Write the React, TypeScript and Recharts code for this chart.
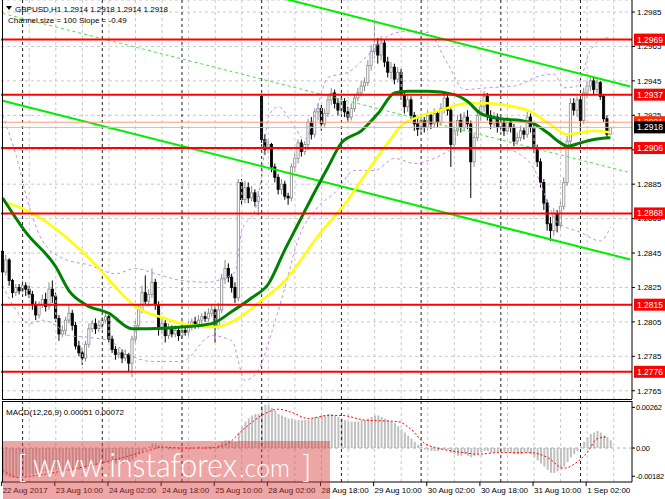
import React from 'react';
import {
  Bar,
  CartesianGrid,
  ComposedChart,
  Line,
  ReferenceLine,
  XAxis,
  YAxis,
} from 'recharts';

const FONT = '"Liberation Sans", Arial, sans-serif';
const W = 665;
const SLOTS = 190; // 184 bars + chart shift on the right

// GBPUSD H1, 22 Aug 2017 18:00 .. 1 Sep 2017 09:00 (weekend has no bars)
const firstOpen = 1.2846;
const gapOpens: Record<number, number> = { 78: 1.2936 }; // Monday open

const closes = [
  1.2834, 1.2841, 1.2829, 1.2822, 1.2825, 1.2823, 1.2826, 1.2824, 1.2821, 1.2815,
  1.2809, 1.2815, 1.2818, 1.2814, 1.2824, 1.282, 1.2807, 1.2798, 1.28, 1.2806,
  1.281, 1.2803, 1.2791, 1.2787, 1.2784, 1.2792, 1.2801, 1.2804, 1.2801, 1.2803,
  1.2806, 1.2808, 1.2795, 1.2789, 1.2786, 1.2787, 1.2784, 1.2786, 1.2781, 1.2795,
  1.2803, 1.2812, 1.2822, 1.2817, 1.2821, 1.2828, 1.2815, 1.2801, 1.2804, 1.2797,
  1.2801, 1.2798, 1.28, 1.2797, 1.28, 1.2799, 1.2802, 1.2805, 1.2803, 1.2806,
  1.2808, 1.2807, 1.281, 1.2812, 1.2803, 1.2812, 1.283, 1.2836, 1.2831, 1.2825,
  1.2819, 1.2886, 1.2876, 1.2883, 1.2877, 1.288, 1.2875, 1.2878, 1.2911, 1.2905,
  1.2908, 1.2895, 1.2889, 1.2882, 1.2885, 1.2878, 1.2877, 1.2895, 1.29, 1.2909,
  1.2904, 1.2908, 1.2921, 1.2914, 1.2927, 1.2929, 1.292, 1.2926, 1.2934, 1.2938,
  1.2932, 1.2928, 1.2933, 1.2927, 1.2924, 1.2929, 1.2935, 1.2938, 1.2942, 1.2944,
  1.2954, 1.2962, 1.2966, 1.296, 1.2967, 1.2956, 1.295, 1.2953, 1.2946, 1.295,
  1.2937, 1.293, 1.2934, 1.2925, 1.292, 1.2917, 1.2922, 1.2918, 1.2925, 1.292,
  1.2926, 1.2921, 1.2929, 1.2935, 1.2928, 1.2908, 1.2916, 1.2922, 1.2918, 1.2924,
  1.292, 1.2898, 1.2912, 1.2925, 1.293, 1.2936, 1.2925, 1.292, 1.2924, 1.2918,
  1.2921, 1.2916, 1.2921, 1.2918, 1.291, 1.2912, 1.2916, 1.2914, 1.2924, 1.2918,
  1.2906, 1.2898, 1.2886, 1.2874, 1.2862, 1.2858, 1.2868, 1.2861, 1.2872, 1.2886,
  1.291, 1.2932, 1.2928, 1.2934, 1.2922, 1.2938, 1.2942, 1.2945, 1.294, 1.2944,
  1.2936, 1.2923, 1.2914, 1.2918,
];

const highs = [
  1.2849, 1.2844, 1.2842, 1.283, 1.2827, 1.2827, 1.2829, 1.2828, 1.2826, 1.2823,
  1.2817, 1.2817, 1.2821, 1.2822, 1.2828, 1.2829, 1.2822, 1.2809, 1.2803, 1.2808,
  1.2815, 1.2812, 1.2805, 1.2794, 1.279, 1.2794, 1.2804, 1.2806, 1.2807, 1.2806,
  1.2808, 1.281, 1.2809, 1.2797, 1.2791, 1.279, 1.2789, 1.2789, 1.2787, 1.2797,
  1.2806, 1.2815, 1.2826, 1.2832, 1.2824, 1.2836, 1.283, 1.2817, 1.2807, 1.2806,
  1.2804, 1.2803, 1.2803, 1.2802, 1.2803, 1.2802, 1.2805, 1.2807, 1.2808, 1.2809,
  1.281, 1.2811, 1.2813, 1.2815, 1.2814, 1.2816, 1.2833, 1.2841, 1.2839, 1.2833,
  1.2828, 1.2888, 1.2888, 1.2887, 1.2886, 1.2884, 1.2882, 1.2881, 1.2937, 1.2914,
  1.2911, 1.2909, 1.2897, 1.2891, 1.2888, 1.2887, 1.288, 1.2897, 1.2903, 1.2911,
  1.2911, 1.291, 1.2923, 1.2924, 1.2929, 1.2932, 1.2931, 1.2929, 1.2937, 1.2941,
  1.294, 1.2935, 1.2936, 1.2935, 1.293, 1.2932, 1.2937, 1.2941, 1.2945, 1.2947,
  1.2957, 1.2966, 1.2979, 1.297, 1.2971, 1.2969, 1.2959, 1.2956, 1.2955, 1.2953,
  1.2952, 1.2939, 1.2937, 1.2936, 1.2927, 1.2923, 1.2925, 1.2924, 1.2928, 1.2927,
  1.2929, 1.2928, 1.2932, 1.2938, 1.2937, 1.293, 1.2919, 1.2925, 1.2926, 1.2927,
  1.2928, 1.2922, 1.2914, 1.2928, 1.2934, 1.2939, 1.2938, 1.2928, 1.2927, 1.2926,
  1.2924, 1.2923, 1.2924, 1.2923, 1.292, 1.2915, 1.2919, 1.2918, 1.2927, 1.2926,
  1.292, 1.2908, 1.29, 1.2888, 1.2876, 1.2866, 1.2871, 1.287, 1.2875, 1.2889,
  1.2913, 1.2935, 1.2935, 1.2936, 1.2935, 1.2941, 1.2945, 1.2947, 1.2947, 1.2946,
  1.2945, 1.2937, 1.2925, 1.2918,
];

const lows = [
  1.2831, 1.2832, 1.2826, 1.2819, 1.282, 1.2821, 1.2822, 1.282, 1.2819, 1.2812,
  1.2806, 1.2807, 1.2813, 1.2811, 1.2812, 1.2816, 1.2805, 1.2794, 1.2796, 1.2797,
  1.2804, 1.28, 1.2789, 1.2785, 1.278, 1.2782, 1.279, 1.2799, 1.2798, 1.2799,
  1.2801, 1.2804, 1.2793, 1.2787, 1.2783, 1.2784, 1.2781, 1.2782, 1.2776, 1.2773,
  1.2792, 1.28, 1.281, 1.2815, 1.2814, 1.2819, 1.2812, 1.2797, 1.2798, 1.2793,
  1.2795, 1.2796, 1.2796, 1.2794, 1.2795, 1.2797, 1.2797, 1.28, 1.2801, 1.2801,
  1.2804, 1.2805, 1.2805, 1.2808, 1.2793, 1.2801, 1.281, 1.2827, 1.2828, 1.2822,
  1.2816, 1.2817, 1.2873, 1.2874, 1.2874, 1.2875, 1.2872, 1.2867, 1.2909, 1.2902,
  1.2903, 1.2892, 1.2886, 1.2879, 1.2879, 1.2876, 1.2873, 1.2875, 1.2892, 1.2897,
  1.2901, 1.2902, 1.2905, 1.2911, 1.2912, 1.2922, 1.2916, 1.2918, 1.2924, 1.2931,
  1.2929, 1.2925, 1.2926, 1.2924, 1.2921, 1.2922, 1.2927, 1.2933, 1.2936, 1.2939,
  1.2942, 1.2951, 1.2958, 1.2955, 1.2957, 1.2953, 1.2947, 1.2946, 1.2943, 1.2944,
  1.2934, 1.2926, 1.2927, 1.2922, 1.2916, 1.2913, 1.2914, 1.2915, 1.2916, 1.2917,
  1.2918, 1.2918, 1.2919, 1.2926, 1.2925, 1.2895, 1.2905, 1.2913, 1.2915, 1.2916,
  1.2917, 1.2877, 1.2895, 1.291, 1.2922, 1.2927, 1.2922, 1.2917, 1.2918, 1.2915,
  1.2916, 1.2913, 1.2914, 1.2915, 1.2907, 1.2908, 1.291, 1.2911, 1.2912, 1.2915,
  1.2903, 1.2895, 1.2883, 1.287, 1.2858, 1.2852, 1.2855, 1.2857, 1.2859, 1.287,
  1.2884, 1.2908, 1.2925, 1.2924, 1.2914, 1.292, 1.2935, 1.2939, 1.2937, 1.2938,
  1.2934, 1.2921, 1.2912, 1.2914,
];

// indicator lines as [bar, value]
const maYellow: [number, number][] = [
  [0, 1.2875], [9, 1.2868], [16, 1.2859], [21, 1.2851], [29, 1.2836], [35, 1.2823],
  [40, 1.2814], [49, 1.2807], [54, 1.2804], [59, 1.2803], [64, 1.2802], [70, 1.2806],
  [77, 1.2816], [85, 1.2829], [95, 1.2855], [104, 1.2876], [110, 1.2893], [116, 1.2909],
  [120, 1.2919], [125, 1.2924], [132, 1.2928], [140, 1.2932], [146, 1.2932], [154, 1.293],
  [158, 1.2928], [164, 1.2921], [170, 1.2914], [174, 1.2915], [178, 1.2916], [183, 1.2915],
];

const maGreen: [number, number][] = [
  [0, 1.2877], [7, 1.2857], [16, 1.2837], [20, 1.2823], [25, 1.2815], [32, 1.281],
  [39, 1.2801], [44, 1.2801], [54, 1.2802], [63, 1.2804], [69, 1.2811], [75, 1.2819],
  [80, 1.2827], [85, 1.2847], [89, 1.2862], [93, 1.2877], [98, 1.2895], [102, 1.2909],
  [108, 1.2916], [113, 1.2926], [118, 1.2938], [122, 1.2939], [128, 1.2939], [136, 1.2937],
  [140, 1.2933], [144, 1.2926], [150, 1.2923], [156, 1.2922], [160, 1.292], [164, 1.2915],
  [168, 1.2909], [170, 1.2907], [174, 1.2909], [178, 1.2911], [183, 1.2912],
];

const bandUpper: [number, number][] = [
  [0, 1.2925], [4, 1.2902], [8, 1.2872], [12, 1.2852], [18, 1.2842], [26, 1.2838],
  [34, 1.2833], [40, 1.2836], [46, 1.2833], [54, 1.2829], [62, 1.2828], [66, 1.283],
  [70, 1.2834], [72, 1.2858], [76, 1.287], [78, 1.289], [80, 1.2924], [83, 1.293],
  [87, 1.2921], [91, 1.2911], [94, 1.2925], [98, 1.2947], [104, 1.295], [110, 1.296],
  [116, 1.2971], [122, 1.2974], [128, 1.2973], [134, 1.2955], [139, 1.294], [146, 1.2941],
  [154, 1.2942], [162, 1.2948], [166, 1.2949], [169, 1.2941], [173, 1.2942], [177, 1.2963],
  [182, 1.297], [183, 1.297],
];

const bandLower: [number, number][] = [
  [0, 1.2826], [4, 1.2812], [8, 1.2804], [12, 1.2806], [16, 1.2803], [20, 1.2797],
  [26, 1.2796], [32, 1.2794], [39, 1.2785], [45, 1.2782], [54, 1.2782], [63, 1.2797],
  [69, 1.2794], [73, 1.2771], [77, 1.2777], [81, 1.2799], [85, 1.2825], [89, 1.2853],
  [95, 1.2872], [100, 1.288], [106, 1.2893], [112, 1.2893], [118, 1.29], [124, 1.2897],
  [130, 1.29], [136, 1.2905], [144, 1.2905], [152, 1.2905], [156, 1.2902], [160, 1.2894],
  [163, 1.288], [167, 1.2863], [174, 1.2857], [180, 1.2852], [183, 1.286],
];

const macdHist = [
  -0.0017, -0.0018, -0.0019, -0.0019, -0.0019, -0.0018, -0.0018, -0.0018, -0.0017,
  -0.0017, -0.0016, -0.0016, -0.0015, -0.0015, -0.0014, -0.0014, -0.0014, -0.0014, -0.0015, -0.0014, -0.0013,
  -0.0013, -0.0013, -0.0014, -0.0014, -0.0013, -0.0012, -0.0011, -0.0011, -0.001, -0.001, -0.0009, -0.001, -0.001, -0.001, -0.001,
  -0.001, -0.0009, -0.0009, -0.0008, -0.0006, -0.0004, -0.0002, -0.0001, 0.0001,
  0.0003, 0.0003, 0.0002, 0.0001, 0,
  -0.0001, -0.0001, 0, -0.0001, 0, 0, -0.0001, 0, 0, 0.0001, 0, 0.0001, 0.0001, 0.0001, 0,
  0.0002, 0.0004, 0.0005, 0.0005, 0.0004, 0.0004, 0.001,
  0.0014, 0.0017, 0.0019, 0.0021, 0.0022, 0.0022,
  0.0027, 0.0028, 0.0028, 0.0026, 0.0024, 0.0022,
  0.0021, 0.002, 0.0019, 0.0019, 0.0018, 0.0018, 0.0018, 0.0018, 0.0018, 0.0019, 0.002, 0.002,
  0.0021, 0.0021, 0.0022, 0.0022, 0.0021, 0.002, 0.0019, 0.0018, 0.0017, 0.0017, 0.0017,
  0.0017, 0.0018, 0.0018, 0.0019, 0.002, 0.0021, 0.0021, 0.002, 0.0019, 0.0018, 0.0017, 0.0016,
  0.0014, 0.0012, 0.001, 0.0008, 0.0006, 0.0004, 0.0002, 0.0001,
  -0.0001, -0.0001, -0.0002, -0.0002, -0.0002, -0.0001, -0.0001, -0.0001, -0.0003,
  -0.0004, -0.0005, -0.0005, -0.0004, -0.0005, -0.0006, -0.0005, -0.0004,
  -0.0003, -0.0002, -0.0002, -0.0003, -0.0003, -0.0003, -0.0002, -0.0003, -0.0003, -0.0003, -0.0004, -0.0004, -0.0004, -0.0003, -0.0003, -0.0004,
  -0.0006, -0.0008, -0.001, -0.0012, -0.0014, -0.0016, -0.0016, -0.0015, -0.0014,
  -0.0012, -0.0009, -0.0006, -0.0004, -0.0002, 0.0001, 0.0004,
  0.0007, 0.0009, 0.001, 0.0011, 0.001, 0.0008, 0.0007, 0.0005,
];

const macdSignal: [number, number][] = [
  [0, -0.0014], [5, -0.0019], [9, -0.0018], [20, -0.0014], [29, -0.001], [39, -0.00045],
  [45, -0.0001], [48, 0.00006], [54, 0], [62, 0], [67, 0.0002], [73, 0.0013], [78, 0.0021],
  [83, 0.0025], [87, 0.0023], [92, 0.0019], [98, 0.0021], [102, 0.0021], [109, 0.0018],
  [119, 0.0017], [123, 0.0012], [127, 0.0003], [131, 0], [139, -0.0003], [143, -0.0004],
  [149, -0.0003], [159, -0.0003], [164, -0.0006], [169, -0.0013], [173, -0.0009],
  [176, -0.0003], [179, 0.0006], [182, 0.00072],
];

const levels = [1.2969, 1.2937, 1.2906, 1.2868, 1.2815, 1.2776];
const askPrice = 1.2921;
const bidPrice = 1.2918;
const priceTicks = [1.2765, 1.2785, 1.2805, 1.2825, 1.2845, 1.2865, 1.2885, 1.2905, 1.2925, 1.2945, 1.2965, 1.2985];
const priceDomain = [1.27602, 1.2992];
const macdTicks = [-0.00182, 0, 0.00262];

// channel lines: value at first and last slot
const channelUpper = [1.30343, 1.29417];
const channelMid = [1.29842, 1.28917];
const channelLower = [1.29335, 1.28412];

const timeLabels: Record<number, string> = {
  0: '22 Aug 2017', 16: '23 Aug 10:00', 32: '24 Aug 02:00', 48: '24 Aug 18:00',
  64: '25 Aug 10:00', 80: '28 Aug 02:00', 96: '28 Aug 18:00', 112: '29 Aug 10:00',
  128: '30 Aug 02:00', 144: '30 Aug 18:00', 160: '31 Aug 10:00', 176: '1 Sep 02:00',
};
const daySeparators = [6, 30, 54, 78, 102, 126, 150, 174];
const gridBars = [8, 16, 24, 32, 40, 48, 56, 64, 72, 80, 88, 96, 104, 112, 120, 128, 136, 144, 152, 160, 168, 176, 184];

const rows: Record<string, any>[] = Array.from({ length: SLOTS }, (_, i) => {
  const row: Record<string, any> = { i };
  if (i < closes.length) {
    const o = gapOpens[i] ?? (i === 0 ? firstOpen : closes[i - 1]);
    Object.assign(row, { o, c: closes[i], h: highs[i], l: lows[i], range: [lows[i], highs[i]], hist: macdHist[i] });
  }
  return row;
});
const put = (pts: [number, number][], key: string) => pts.forEach(([i, v]) => { rows[i][key] = v; });
put(maYellow, 'yellow');
put(maGreen, 'green');
put(bandUpper, 'bbUp');
put(bandLower, 'bbLo');
put(macdSignal, 'sig');

function Candle(props: any) {
  const { x, y, width, height, payload } = props;
  if (!payload || payload.h == null || !height) return null;
  const top = height < 0 ? y + height : y;
  const span = Math.abs(height);
  const k = span / (payload.h - payload.l);
  const yo = top + (payload.h - payload.o) * k;
  const yc = top + (payload.h - payload.c) * k;
  const cx = x + width / 2;
  const up = payload.c >= payload.o;
  const edge = up ? '#8a8a8a' : '#000';
  return (
    <g>
      <line x1={cx} x2={cx} y1={top} y2={top + span} stroke={edge} strokeWidth={1} />
      <rect
        x={cx - 1.1}
        y={Math.min(yo, yc)}
        width={2.2}
        height={Math.max(Math.abs(yc - yo), 1)}
        fill={up ? '#fff' : '#000'}
        stroke={edge}
        strokeWidth={0.8}
      />
    </g>
  );
}

function PriceTag({ viewBox, price, bg }: any) {
  if (!viewBox) return null;
  const x = viewBox.x + viewBox.width + 2;
  const y = viewBox.y;
  return (
    <g>
      <rect x={x} y={y - 6} width={31} height={12} fill={bg} />
      <text x={x + 3} y={y + 3} fill="#fff" fontSize={8.5} fontFamily={FONT}>
        {price.toFixed(4)}
      </text>
    </g>
  );
}

function TimeTick({ x, y, payload }: any) {
  const label = timeLabels[payload.value];
  if (!label) return null;
  return (
    <g>
      <line x1={x - 1} x2={x - 1} y1={y} y2={y + 4} stroke="#000" />
      <text x={x} y={y + 11} fontSize={8} fontFamily={FONT} fill="#000">
        {label}
      </text>
    </g>
  );
}

const tickStyle = { fontSize: 8, fill: '#000', fontFamily: FONT };
const macdTickStyle = { fontSize: 7.5, fill: '#000', fontFamily: FONT, letterSpacing: -0.2 };

function verticalGuides() {
  return [
    ...gridBars.map((g) => (
      <ReferenceLine key={`g${g}`} x={g} stroke="#c8c8c8" strokeDasharray="3 3" />
    )),
    ...daySeparators.map((d) => (
      <ReferenceLine key={`d${d}`} x={d} stroke="#222" strokeDasharray="3 3" />
    )),
  ];
}

export default function App() {
  const margin = { top: 0, right: 0, bottom: 0, left: 1 };
  return (
    <div style={{ position: 'absolute', left: 0, top: 0, width: W, height: 499, background: '#fff', overflow: 'hidden' }}>
      <div style={{ position: 'absolute', left: 0, top: 0 }}>
        <ComposedChart width={W} height={399} data={rows} margin={margin} barCategoryGap={0} barGap={0}>
          <CartesianGrid vertical={false} stroke="#c8c8c8" strokeDasharray="3 3" />
          <XAxis dataKey="i" type="category" hide />
          <YAxis
            orientation="right"
            width={33}
            domain={priceDomain}
            allowDataOverflow
            ticks={priceTicks}
            interval={0}
            tickFormatter={(v: number) => v.toFixed(4)}
            tick={tickStyle}
            tickSize={3}
            tickMargin={2}
            tickLine={{ stroke: '#000' }}
            axisLine={{ stroke: '#000' }}
          />
          {verticalGuides()}
          <ReferenceLine
            segment={[{ x: 0, y: channelMid[0] }, { x: SLOTS - 1, y: channelMid[1] }]}
            stroke="#44e044"
            strokeDasharray="3 3"
            ifOverflow="hidden"
          />
          <Line dataKey="bbUp" type="monotone" stroke="#c48ee6" strokeWidth={1} strokeDasharray="3 3" dot={false} connectNulls isAnimationActive={false} />
          <Line dataKey="bbLo" type="monotone" stroke="#c48ee6" strokeWidth={1} strokeDasharray="3 3" dot={false} connectNulls isAnimationActive={false} />
          <Bar dataKey="range" shape={(p: any) => <Candle {...p} />} isAnimationActive={false} />
          <ReferenceLine
            segment={[{ x: 0, y: channelUpper[0] }, { x: SLOTS - 1, y: channelUpper[1] }]}
            stroke="#00ee00"
            strokeWidth={2}
            ifOverflow="hidden"
          />
          <ReferenceLine
            segment={[{ x: 0, y: channelLower[0] }, { x: SLOTS - 1, y: channelLower[1] }]}
            stroke="#00ee00"
            strokeWidth={2}
            ifOverflow="hidden"
          />
          <Line dataKey="yellow" type="monotone" stroke="#ffff00" strokeWidth={2.5} dot={false} connectNulls isAnimationActive={false} />
          <Line dataKey="green" type="monotone" stroke="#008000" strokeWidth={3} dot={false} connectNulls isAnimationActive={false} />
          {levels.map((v) => (
            <ReferenceLine key={v} y={v} stroke="#ff0000" strokeWidth={2} />
          ))}
          <ReferenceLine y={askPrice} stroke="#ff9a7a" strokeWidth={1} />
          <ReferenceLine y={bidPrice} stroke="#c0c0c0" strokeWidth={1} />
        </ComposedChart>
      </div>

      {/* price tags on the right scale, drawn above the axis labels */}
      <div style={{ position: 'absolute', left: 0, top: 0, pointerEvents: 'none' }}>
        <ComposedChart width={W} height={399} data={rows} margin={margin}>
          <XAxis dataKey="i" type="category" hide />
          <YAxis orientation="right" width={33} domain={priceDomain} allowDataOverflow tick={false} tickLine={false} axisLine={false} />
          {levels.map((v) => (
            <ReferenceLine key={v} y={v} stroke="none" label={<PriceTag price={v} bg="#ff0000" />} />
          ))}
          <ReferenceLine y={askPrice} stroke="none" label={<PriceTag price={askPrice} bg="#ff2a00" />} />
          <ReferenceLine y={bidPrice} stroke="none" label={<PriceTag price={bidPrice} bg="#000" />} />
        </ComposedChart>
      </div>

      <div style={{ position: 'absolute', left: 0, top: 401 }}>
        <ComposedChart width={W} height={98} data={rows} margin={margin} barCategoryGap={0}>
          <XAxis
            dataKey="i"
            type="category"
            height={17}
            ticks={Object.keys(timeLabels).map(Number)}
            interval={0}
            tick={<TimeTick />}
            tickSize={0}
            tickMargin={0}
            tickLine={false}
            axisLine={{ stroke: '#000' }}
          />
          <YAxis
            orientation="right"
            width={33}
            domain={[-0.00219, 0.00303]}
            allowDataOverflow
            ticks={macdTicks}
            interval={0}
            tickFormatter={(v: number) => (v === 0 ? '0.00' : v.toFixed(5))}
            tick={macdTickStyle}
            tickSize={3}
            tickMargin={1}
            tickLine={{ stroke: '#000' }}
            axisLine={{ stroke: '#000' }}
          />
          {verticalGuides()}
          <ReferenceLine y={0} stroke="#b0b0b0" strokeDasharray="3 3" />
          <Bar dataKey="hist" fill="#c0c0c0" barSize={2} isAnimationActive={false} />
          <Line dataKey="sig" type="monotone" stroke="#ff0000" strokeWidth={1} strokeDasharray="2 2" dot={false} connectNulls isAnimationActive={false} />
        </ComposedChart>
      </div>

      <svg width={W} height={499} style={{ position: 'absolute', left: 0, top: 0, pointerEvents: 'none' }}>
        <line x1={2.5} y1={0} x2={2.5} y2={399} stroke="#000" />
        <line x1={2} y1={399.5} x2={632} y2={399.5} stroke="#000" />
        <line x1={2} y1={401.5} x2={632} y2={401.5} stroke="#000" />
        <line x1={2.5} y1={401} x2={2.5} y2={482} stroke="#000" />
        <polygon points="6,6 12,6 9,10" fill="#000" />
        <text x={15} y={11.5} fontSize={8} fontFamily={FONT} fill="#000">
          GBPUSD,H1  1.2914 1.2918 1.2914 1.2918
        </text>
        <text x={8} y={22.5} fontSize={8} fontFamily={FONT} fill="#000">
          Channel size = 100 Slope = -0.49
        </text>
        <text x={6} y={415} fontSize={8} fontFamily={FONT} fill="#000">
          MACD(12,26,9) 0.00051 0.00072
        </text>
        <rect x={3} y={441} width={327} height={58} fill="#d63a3a" opacity={0.45} />
        <g fill="#fff" fontFamily="Lato, 'Open Sans', sans-serif" fontWeight={300}>
          <text x={17} y={478} fontSize={32}>[</text>
          <text x={33} y={477} fontSize={33} textLength={204} lengthAdjust="spacingAndGlyphs">
            www.instaforex
          </text>
          <text x={239} y={477} fontSize={25} textLength={51} lengthAdjust="spacingAndGlyphs">
            .com
          </text>
          <text x={302} y={478} fontSize={32}>]</text>
        </g>
      </svg>
    </div>
  );
}
